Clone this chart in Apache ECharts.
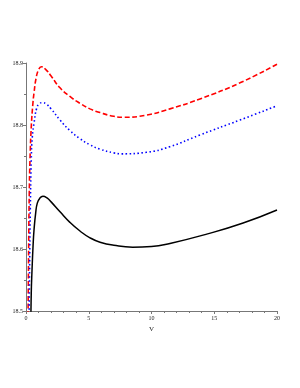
<!DOCTYPE html>
<html>
<head>
<meta charset="utf-8">
<script src="https://cdn.jsdelivr.net/npm/echarts@6/dist/echarts.min.js"></script>
<style>html,body{margin:0;padding:0;background:#fff;}#c{width:300px;height:388px;}</style>
</head>
<body>
<div id="c"></div>
<script>
// Red dashed curve
const redV   = [0.16, 0.2, 0.26, 0.32, 0.42, 0.55, 0.64, 0.8, 1.0, 1.22, 1.6, 2.0, 2.71, 3.5, 4.3, 5.1, 5.9, 7.0, 7.75, 9.6, 11.47, 13.86, 17.05, 20];
const redY   = [18.48, 18.58, 18.69, 18.745, 18.797, 18.835, 18.852, 18.875, 18.889, 18.894, 18.889, 18.879, 18.860, 18.846, 18.835, 18.826, 18.820, 18.814, 18.8125, 18.816, 18.826, 18.842, 18.868, 18.898];
// Blue dotted curve
const blueV  = [0.24, 0.28, 0.34, 0.42, 0.5, 0.64, 0.85, 1.05, 1.3, 1.6, 2.0, 2.71, 3.5, 4.3, 5.1, 5.9, 7.0, 7.6, 9.6, 11.47, 13.86, 17.05, 20];
const blueY  = [18.47, 18.56, 18.66, 18.744, 18.78, 18.803, 18.827, 18.834, 18.836, 18.834, 18.826, 18.808, 18.791, 18.778, 18.768, 18.761, 18.755, 18.7535, 18.756, 18.765, 18.784, 18.808, 18.831];
// Black solid curve
const blackV = [0.38, 0.42, 0.48, 0.56, 0.64, 0.77, 0.9, 1.1, 1.35, 1.7, 2.0, 2.71, 3.5, 4.3, 5.1, 5.9, 7.0, 8.5, 10, 11.47, 14.4, 17.3, 20];
const blackY = [18.47, 18.53, 18.566, 18.604, 18.631, 18.658, 18.674, 18.682, 18.685, 18.682, 18.676, 18.660, 18.643, 18.629, 18.618, 18.611, 18.606, 18.603, 18.604, 18.609, 18.624, 18.642, 18.663];
const xTicks = [0, 5, 10, 15, 20];
const yTicks = [18.5, 18.6, 18.7, 18.8, 18.9];

const zip = (a, b) => a.map((v, i) => [v, b[i]]);
const font = '"Liberation Serif", "DejaVu Serif", serif';
const chart = echarts.init(document.getElementById('c'), null, {renderer: 'canvas'});
chart.setOption({
  animation: false,
  backgroundColor: '#fff',
  grid: {left: 26, right: 23, top: 63, bottom: 77, containLabel: false},
  xAxis: {
    type: 'value', min: xTicks[0], max: xTicks[xTicks.length - 1], interval: 5,
    name: 'V', nameLocation: 'middle', nameGap: 14,
    nameTextStyle: {fontFamily: font, fontSize: 7, color: '#222'},
    axisLine: {show: true, onZero: false, lineStyle: {color: '#777', width: 1}},
    axisTick: {show: true, length: 3, lineStyle: {color: '#777'}},
    minorTick: {show: true, splitNumber: 5, length: 2, lineStyle: {color: '#777'}},
    splitLine: {show: false},
    axisLabel: {fontFamily: font, fontSize: 6, color: '#222', margin: 4,
      formatter: v => xTicks.includes(v) ? String(v) : ''}
  },
  yAxis: {
    type: 'value', min: yTicks[0], max: yTicks[yTicks.length - 1], interval: 0.1,
    axisLine: {show: true, onZero: false, lineStyle: {color: '#777', width: 1}},
    axisTick: {show: true, length: 3, lineStyle: {color: '#777'}},
    minorTick: {show: true, splitNumber: 2, length: 2, lineStyle: {color: '#777'}},
    splitLine: {show: false},
    axisLabel: {fontFamily: font, fontSize: 6, color: '#222', margin: 3,
      formatter: v => v.toFixed(1)}
  },
  series: [
    {type: 'line', data: zip(redV, redY), smooth: 0.5, showSymbol: false, clip: true,
     lineStyle: {color: '#ff0000', width: 1.6, type: [5, 2.5]}},
    {type: 'line', data: zip(blueV, blueY), smooth: 0.5, showSymbol: false, clip: true,
     lineStyle: {color: '#0000ff', width: 1.6, type: [1.5, 2.5]}},
    {type: 'line', data: zip(blackV, blackY), smooth: 0.5, showSymbol: false, clip: true,
     lineStyle: {color: '#000000', width: 1.5}}
  ]
});
</script>
</body>
</html>
